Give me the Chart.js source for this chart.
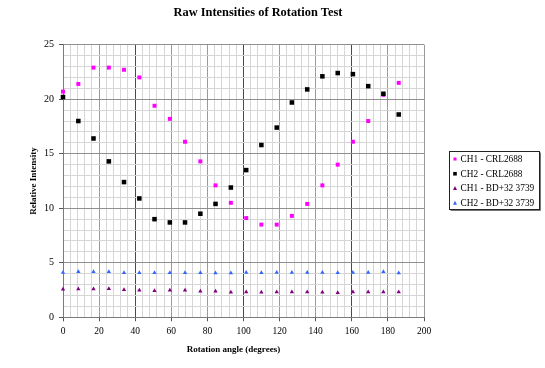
<!DOCTYPE html>
<html lang="en">
<head>
  <meta charset="UTF-8">
  <title>Raw Intensities of Rotation Test</title>
  <script src="https://cdn.jsdelivr.net/npm/chart.js"></script>
  <style>
    body { margin: 0; background: #fff; }
    #wrap { width: 545px; height: 368px; }
  </style>
</head>
<body>
  <div id="wrap">
    <canvas id="rotChart" width="545" height="368"></canvas>
  </div>

  <script>
    // rotation angles (degrees)
    const angles = [0, 8.5, 16.9, 25.4, 33.8, 42.3, 50.7, 59.2, 67.6, 76.1, 84.5, 93.0,
                    101.5, 109.9, 118.4, 126.8, 135.3, 143.7, 152.2, 160.6, 169.1, 177.5, 186.0];

    // series values
    const ch1Crl = [20.7, 21.4, 22.9, 22.9, 22.7, 22.0, 19.4, 18.2, 16.1, 14.3, 12.1, 10.5,
                    9.1, 8.5, 8.5, 9.3, 10.4, 12.1, 14.0, 16.1, 18.0, 20.4, 21.5];
    const ch2Crl = [20.2, 18.0, 16.4, 14.3, 12.4, 10.9, 9.0, 8.7, 8.7, 9.5, 10.4, 11.9,
                    13.5, 15.8, 17.4, 19.7, 20.9, 22.1, 22.4, 22.3, 21.2, 20.5, 18.6];
    const ch1Bd = [2.57, 2.60, 2.60, 2.62, 2.53, 2.48, 2.44, 2.48, 2.48, 2.39, 2.39, 2.29,
                   2.32, 2.29, 2.32, 2.32, 2.32, 2.29, 2.26, 2.32, 2.32, 2.32, 2.32];
    const ch2Bd = [4.12, 4.18, 4.18, 4.18, 4.09, 4.09, 4.09, 4.09, 4.09, 4.09, 4.06, 4.06,
                   4.12, 4.09, 4.12, 4.12, 4.12, 4.12, 4.09, 4.12, 4.12, 4.18, 4.06];

    const seriesNames = ['CH1 - CRL2688', 'CH2 - CRL2688', 'CH1 - BD+32 3739', 'CH2 - BD+32 3739'];

    const chartTitle = 'Raw Intensities of Rotation Test';
    const xTitle = 'Rotation angle (degrees)';
    const yTitle = 'Relative Intensity';

    const serif = '"Liberation Serif", "Times New Roman", serif';

    function toPoints(ys) {
      return angles.map((a, i) => ({ x: a, y: ys[i] }));
    }

    // title, x-axis title and boxed legend
    const overlay = {
      id: 'overlay',
      afterDraw(chart) {
        const ctx = chart.ctx;
        const area = chart.chartArea;
        ctx.save();
        ctx.fillStyle = '#000';
        ctx.textAlign = 'center';
        ctx.textBaseline = 'middle';
        ctx.font = 'bold 12.4px ' + serif;
        ctx.fillText(chartTitle, (area.left + area.right) / 2 + 14.5, 13);
        ctx.font = 'bold 9px ' + serif;
        ctx.fillText(xTitle, (area.left + area.right) / 2 - 10, 350);

        // legend box
        const lx = 449.5, ly = 151.5, lw = 90, lh = 58;
        ctx.fillStyle = '#fff';
        ctx.fillRect(lx, ly, lw, lh);
        ctx.strokeStyle = '#222';
        ctx.lineWidth = 1;
        ctx.strokeRect(lx, ly, lw, lh);
        ctx.strokeStyle = '#777';
        ctx.beginPath();
        ctx.moveTo(lx + 1, ly + lh + 1);
        ctx.lineTo(lx + lw + 1, ly + lh + 1);
        ctx.lineTo(lx + lw + 1, ly + 1);
        ctx.stroke();

        ctx.textAlign = 'left';
        ctx.font = '9.3px ' + serif;
        chart.data.datasets.forEach((ds, i) => {
          const cy = 159 + i * 14.75;
          const mx = 455;
          ctx.fillStyle = ds.backgroundColor;
          if (ds.pointStyle === 'rect') {
            const s = i === 0 ? 3 : 3.6;
            ctx.fillRect(mx - s / 2, cy - s / 2, s, s);
          } else {
            ctx.beginPath();
            ctx.moveTo(mx, cy - 2.4);
            ctx.lineTo(mx + 2, cy + 1.4);
            ctx.lineTo(mx - 2, cy + 1.4);
            ctx.closePath();
            ctx.fill();
          }
          ctx.fillStyle = '#000';
          ctx.fillText(ds.label, 460.5, cy + 0.5);
        });
        ctx.restore();
      }
    };

    new Chart(document.getElementById('rotChart'), {
      type: 'scatter',
      data: {
        datasets: [
          {
            label: seriesNames[0],
            data: toPoints(ch1Crl),
            pointStyle: 'rect',
            pointRadius: 2.8,
            borderWidth: 0,
            backgroundColor: '#ff00ff',
            clip: false,
            order: 2
          },
          {
            label: seriesNames[1],
            data: toPoints(ch2Crl),
            pointStyle: 'rect',
            pointRadius: 3.2,
            borderWidth: 0,
            backgroundColor: '#000000',
            clip: false,
            order: 1
          },
          {
            label: seriesNames[2],
            data: toPoints(ch1Bd),
            pointStyle: 'triangle',
            pointRadius: 2.5,
            borderWidth: 0,
            backgroundColor: '#800080',
            clip: false,
            order: 3
          },
          {
            label: seriesNames[3],
            data: toPoints(ch2Bd),
            pointStyle: 'triangle',
            pointRadius: 2.5,
            borderWidth: 0,
            backgroundColor: '#3366ff',
            clip: false,
            order: 4
          }
        ]
      },
      options: {
        responsive: false,
        animation: false,
        layout: { padding: { top: 44.7, right: 121, bottom: 0, left: 0 } },
        plugins: {
          legend: { display: false },
          tooltip: { enabled: false }
        },
        scales: {
          x: {
            type: 'linear',
            min: 0,
            max: 200,
            afterFit(scale) { scale.height = 50.7; },
            ticks: {
              stepSize: 4,
              autoSkip: false,
              maxRotation: 0,
              padding: 4,
              color: '#000',
              font: { family: serif, size: 9.5 },
              callback: v => (v % 20 === 0 ? v : '')
            },
            grid: {
              tickLength: 4,
              color: c => {
                const v = c.tick ? c.tick.value : 0;
                if (v % 60 === 40) return '#4a4a4a';
                if (v % 20 === 0) return '#9a9a9a';
                return '#d6d6d6';
              },
              tickColor: c => (c.tick && c.tick.value % 20 === 0 ? '#555' : 'rgba(0,0,0,0)')
            },
            border: { color: '#7a7a7a' }
          },
          y: {
            min: 0,
            max: 25,
            afterFit(scale) { scale.width = 63; },
            ticks: {
              stepSize: 1,
              autoSkip: false,
              padding: 5,
              color: '#000',
              font: { family: serif, size: 10 },
              callback: v => (v % 5 === 0 ? v : '')
            },
            grid: {
              tickLength: 4,
              color: c => (c.tick && c.tick.value % 5 === 0 ? '#8f8f8f' : '#d6d6d6'),
              tickColor: c => (c.tick && c.tick.value % 5 === 0 ? '#555' : 'rgba(0,0,0,0)')
            },
            border: { color: '#7a7a7a' },
            title: {
              display: true,
              text: yTitle,
              color: '#000',
              font: { family: serif, size: 9, weight: 'bold' },
              padding: { top: 28.5, bottom: 0 }
            }
          }
        }
      },
      plugins: [overlay]
    });
  </script>
</body>
</html>
